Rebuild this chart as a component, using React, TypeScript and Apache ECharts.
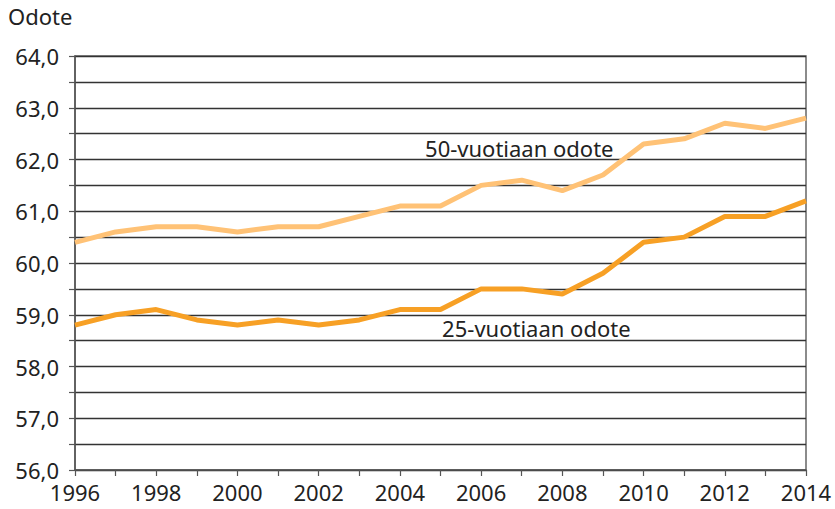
import React, { useEffect, useRef } from "react";
import * as echarts from "echarts";

const years = ["1996","1997","1998","1999","2000","2001","2002","2003","2004","2005","2006","2007","2008","2009","2010","2011","2012","2013","2014"];
const odote50 = [60.4,60.6,60.7,60.7,60.6,60.7,60.7,60.9,61.1,61.1,61.5,61.6,61.4,61.7,62.3,62.4,62.7,62.6,62.8];
const odote25 = [58.8,59.0,59.1,58.9,58.8,58.9,58.8,58.9,59.1,59.1,59.5,59.5,59.4,59.8,60.4,60.5,60.9,60.9,61.2];
const yAxisTitle = "Odote";
const label50 = "50-vuotiaan odote";
const label25 = "25-vuotiaan odote";
// label anchor positions in data space: [x index (fractional), value]
const label50At = [8.62, 62.22];
const label25At = [9.04, 58.74];

const FONT = "Noto Sans";

export default function App() {
  const ref = useRef<HTMLDivElement>(null);
  useEffect(() => {
    document.body.style.margin = "0";
    const chart = echarts.init(ref.current!, null, { renderer: "svg" });
    chart.setOption({
      animation: false,
      textStyle: { fontFamily: FONT },
      grid: { left: 75, right: 29, top: 56, bottom: 39, show: true, borderColor: "#666", borderWidth: 1.5 },
      xAxis: {
        type: "category",
        data: years,
        boundaryGap: false,
        axisLine: { show: true, lineStyle: { color: "#555", width: 1.5 } },
        axisTick: { show: true, interval: 0, length: 6, lineStyle: { color: "#555", width: 1.2 } },
        axisLabel: { interval: 1, color: "#222", fontSize: 22, fontFamily: FONT, margin: 11 },
        splitLine: { show: false },
      },
      yAxis: {
        type: "value",
        min: 56,
        max: 64,
        interval: 0.5,
        axisLine: { show: true, lineStyle: { color: "#555", width: 1.5 } },
        axisTick: { show: true, length: 6, lineStyle: { color: "#555", width: 1.2 } },
        axisLabel: {
          color: "#222",
          fontSize: 22,
          fontFamily: FONT,
          margin: 16,
          formatter: (v: number) => (Math.abs(v - Math.round(v)) < 1e-6 ? v.toFixed(1).replace(".", ",") : ""),
        },
        splitLine: { show: true, lineStyle: { color: "#333", width: 1.3 } },
      },
      series: [
        { name: label50, type: "line", data: odote50, symbol: "none", lineStyle: { color: "#FFC276", width: 5 } },
        { name: label25, type: "line", data: odote25, symbol: "none", lineStyle: { color: "#F7A025", width: 5 } },
      ],
    });
    const x0 = chart.convertToPixel({ gridIndex: 0 }, [0, 0]);
    const x1 = chart.convertToPixel({ gridIndex: 0 }, [1, 0]);
    const step = x1[0] - x0[0];
    const px = (at: number[]) => {
      const p = chart.convertToPixel({ gridIndex: 0 }, [0, at[1]]);
      return [x0[0] + step * at[0], p[1]];
    };
    const p50 = px(label50At);
    const p25 = px(label25At);
    chart.setOption({
      graphic: [
        { type: "text", left: 8, top: 5, style: { text: yAxisTitle, fontSize: 22, fontFamily: FONT, fill: "#222" } },
        { type: "text", x: p50[0], y: p50[1], style: { text: label50, fontSize: 22, fontFamily: FONT, fill: "#222", textVerticalAlign: "middle" } },
        { type: "text", x: p25[0], y: p25[1], style: { text: label25, fontSize: 22, fontFamily: FONT, fill: "#222", textVerticalAlign: "middle" } },
      ],
    });
    return () => chart.dispose();
  }, []);
  return <div ref={ref} style={{ width: 835, height: 509 }} />;
}
